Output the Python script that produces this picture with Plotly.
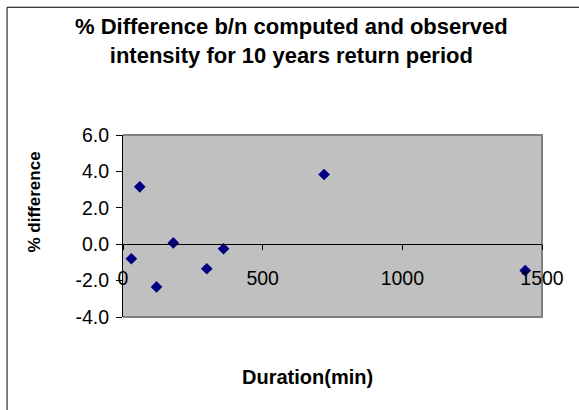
import plotly.graph_objects as go

duration_min = [30, 60, 120, 180, 300, 360, 720, 1440]
pct_difference = [-0.8, 3.15, -2.35, 0.07, -1.35, -0.25, 3.83, -1.45]
x_ticks = [0, 500, 1000, 1500]
y_ticks = [-4, -2, 0, 2, 4, 6]

W, H = 579, 410
L, R, T, B = 123.3, 37.3, 135.3, 93.3
pw, ph = W - L - R, H - T - B

def px(x):
    return (x - L) / pw

def py(y):
    return (H - B - y) / ph

FONT = "Liberation Sans, Arial, sans-serif"

fig = go.Figure()
fig.add_trace(go.Scatter(
    x=duration_min, y=pct_difference, mode="markers",
    marker=dict(symbol="diamond", size=9, color="#000080", line=dict(width=0)),
    cliponaxis=False, showlegend=False,
))

fig.update_layout(
    width=W, height=H,
    margin=dict(l=L, r=R, t=T, b=B),
    paper_bgcolor="white", plot_bgcolor="#C0C0C0",
    font=dict(family=FONT, color="black"),
    xaxis=dict(
        range=[0, 1500], tickvals=x_ticks, ticktext=[str(v) for v in x_ticks],
        showgrid=False, zeroline=False, showline=True, linecolor="black", linewidth=1,
        ticks="outside", ticklen=5, tickcolor="black", tickfont=dict(size=19.5, family=FONT),
        anchor="free", position=0.4, ticklabelstandoff=11,
    ),
    yaxis=dict(
        range=[-4, 6], tickvals=y_ticks, ticktext=[f"{v:.1f}" for v in y_ticks],
        showgrid=False, zeroline=False, showline=True, linecolor="black", linewidth=1,
        ticks="outside", ticklen=6, tickcolor="black", tickfont=dict(size=19.5, family=FONT),
        ticklabelstandoff=3,
    ),
    shapes=[
        dict(type="path", xref="paper", yref="paper",
             path="M 0,1 L 1,1 L 1,0 L 0,0", line=dict(color="#808080", width=2), layer="below"),
        dict(type="rect", xref="paper", yref="paper",
             x0=px(7.5), y0=py(415), x1=px(585), y1=py(8),
             line=dict(color="black", width=1), layer="above"),
    ],
    annotations=[
        dict(text="<b>% Difference b/n computed and observed<br>intensity for 10 years return period</b>",
             xref="paper", yref="paper", x=px(292), y=py(42), xanchor="center", yanchor="middle",
             showarrow=False, font=dict(size=22, family=FONT, color="black"), align="center"),
        dict(text="<b>Duration(min)</b>", xref="paper", yref="paper", x=px(308), y=py(377),
             xanchor="center", yanchor="middle", showarrow=False,
             font=dict(size=20, family=FONT, color="black")),
        dict(text="<b>% difference</b>", xref="paper", yref="paper", x=px(35), y=py(202),
             xanchor="center", yanchor="middle", showarrow=False, textangle=-90,
             font=dict(size=17, family=FONT, color="black")),
    ],
)

fig.write_html("out.html")
